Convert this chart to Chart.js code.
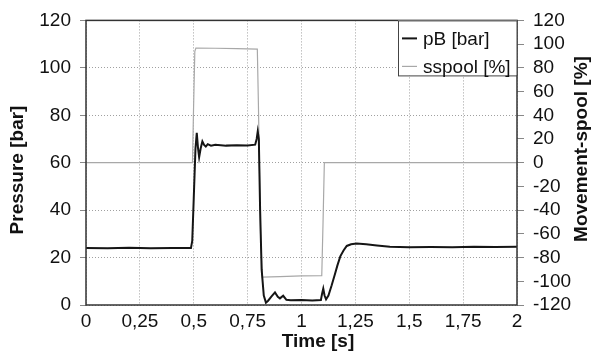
<!DOCTYPE html>
<html><head><meta charset="utf-8">
<script src="https://cdn.jsdelivr.net/npm/chart.js@4.4.1/dist/chart.umd.min.js"></script>
<style>html,body{margin:0;padding:0;background:#fff}#wrap{width:592px;height:356px}</style>
</head><body><div id="wrap"><canvas id="c" width="592" height="356"></canvas></div>
<script>
// ---- data ----
const pbLabel = 'pB [bar]';
const spoolLabel = 'sspool [%]';
const pbTime   = [0, 0.1, 0.2, 0.3, 0.4, 0.487, 0.493, 0.50, 0.508, 0.514, 0.520, 0.525, 0.532, 0.540, 0.548, 0.556, 0.565, 0.58, 0.60, 0.65, 0.70, 0.75, 0.785, 0.792, 0.797, 0.802, 0.808, 0.815, 0.825, 0.835, 0.845, 0.86, 0.877, 0.89, 0.90, 0.915, 0.93, 0.95, 1.0, 1.05, 1.09, 1.096, 1.101, 1.107, 1.114, 1.125, 1.14, 1.155, 1.166, 1.18, 1.195, 1.21, 1.23, 1.256, 1.30, 1.35, 1.41, 1.5, 1.6, 1.7, 1.8, 1.9, 2.0];
const pbValues = [24.0, 23.9, 24.1, 23.9, 24.0, 24.0, 27, 45, 66, 72.6, 66, 62.3, 66, 69.0, 67.5, 66.8, 67.8, 67.2, 67.6, 67.2, 67.4, 67.3, 67.6, 70, 73.2, 70, 40, 15, 4, 1.0, 1.8, 3.5, 5.3, 3.5, 2.8, 3.9, 2.2, 2.0, 2.1, 1.9, 2.1, 5, 6.9, 4, 2.4, 4, 8.3, 13, 16.5, 20.5, 23, 24.9, 25.6, 25.9, 25.6, 25.1, 24.6, 24.4, 24.5, 24.4, 24.6, 24.5, 24.6];
const spoolTime   = [0, 0.494, 0.499, 0.505, 0.51, 0.60, 0.70, 0.795, 0.800, 0.81, 0.818, 0.9, 1.0, 1.094, 1.100, 1.106, 2.0];
const spoolValues = [0, 0, 45, 94, 96.7, 96.5, 96.2, 95.8, 50, -60, -96.5, -96, -95.5, -95.2, -50, 0, 0];
const xTickStep = 0.25;
const leftTitle = 'Pressure [bar]';
const rightTitle = 'Movement-spool [%]';
const xTitle = 'Time [s]';

const FONT = 'Arial, "Liberation Sans", Helvetica, sans-serif';
const pbData = pbTime.map((t, i) => ({x: t, y: pbValues[i]}));
const spoolData = spoolTime.map((t, i) => ({x: t, y: spoolValues[i]}));

const framePlugin = {
  id: 'frameAndTitles',
  afterDatasetsDraw(chart) {
    const {ctx, chartArea: a} = chart;
    ctx.save();
    ctx.strokeStyle = '#333';
    ctx.lineWidth = 1.5;
    ctx.strokeRect(a.left, a.top, a.right - a.left, a.bottom - a.top);
    // legend box
    const lx = 398, ly = a.top, lw = a.right - 398, lh = 55;
    ctx.fillStyle = '#fff';
    ctx.fillRect(lx, ly, lw, lh);
    ctx.strokeStyle = '#444';
    ctx.lineWidth = 1;
    ctx.strokeRect(lx + 0.5, ly + 0.5, lw - 0.5, lh);
    const items = chart.data.datasets;
    const rows = [a.top + 18, a.top + 46];
    items.forEach((ds, i) => {
      ctx.strokeStyle = ds.borderColor;
      ctx.lineWidth = ds.borderWidth;
      ctx.beginPath();
      ctx.moveTo(lx + 4, rows[i]);
      ctx.lineTo(lx + 19, rows[i]);
      ctx.stroke();
      ctx.fillStyle = '#111';
      ctx.font = '19px ' + FONT;
      ctx.textBaseline = 'middle';
      ctx.textAlign = 'left';
      ctx.fillText(ds.label, lx + 25, rows[i] + 1);
    });
    // axis titles
    ctx.fillStyle = '#111';
    ctx.font = 'bold 19px ' + FONT;
    ctx.textAlign = 'center';
    ctx.textBaseline = 'middle';
    ctx.save();
    ctx.translate(18, 170);
    ctx.rotate(-Math.PI / 2);
    ctx.fillText(leftTitle, 0, 0);
    ctx.restore();
    ctx.save();
    ctx.translate(582, 149);
    ctx.rotate(-Math.PI / 2);
    ctx.fillText(rightTitle, 0, 0);
    ctx.restore();
    ctx.fillText(xTitle, 318, 342);
    ctx.restore();
  }
};

new Chart(document.getElementById('c'), {
  type: 'line',
  data: {
    datasets: [
      {label: pbLabel, data: pbData, yAxisID: 'y', borderColor: '#151515', borderWidth: 2, pointRadius: 0, tension: 0, order: 1},
      {label: spoolLabel, data: spoolData, yAxisID: 'y2', borderColor: '#a8a8a8', borderWidth: 1.2, pointRadius: 0, tension: 0, order: 2}
    ]
  },
  options: {
    responsive: false,
    animation: false,
    devicePixelRatio: 1,
    layout: {padding: {top: 16, left: 0, right: 0, bottom: 0}},
    plugins: {legend: {display: false}, tooltip: {enabled: false}},
    scales: {
      x: {
        type: 'linear', min: 0, max: 2,
        afterFit(s) { s.height = 51; },
        ticks: {stepSize: xTickStep, autoSkip: false, maxRotation: 0, color: '#111', font: {size: 19, family: FONT}, padding: 5,
          callback: v => String(v).replace('.', ',')},
        grid: {color: '#a0a0a0', lineWidth: 1, drawTicks: false},
        border: {display: false, dash: [1, 2]}
      },
      y: {
        position: 'left', min: 0, max: 120,
        afterFit(s) { s.width = 86; },
        ticks: {stepSize: 20, autoSkip: false, color: '#111', font: {size: 19, family: FONT}, padding: 9},
        grid: {color: '#a0a0a0', lineWidth: 1, drawTicks: true, tickLength: 6, tickColor: '#888', tickBorderDash: []},
        border: {display: false, dash: [1, 2]}
      },
      y2: {
        position: 'right', min: -120, max: 120,
        afterFit(s) { s.width = 75; },
        ticks: {stepSize: 20, autoSkip: false, color: '#111', font: {size: 19, family: FONT}, padding: 9},
        grid: {drawOnChartArea: false, drawTicks: true, tickLength: 7, tickColor: '#888'},
        border: {display: false}
      }
    }
  },
  plugins: [framePlugin]
});
</script>
</body></html>
